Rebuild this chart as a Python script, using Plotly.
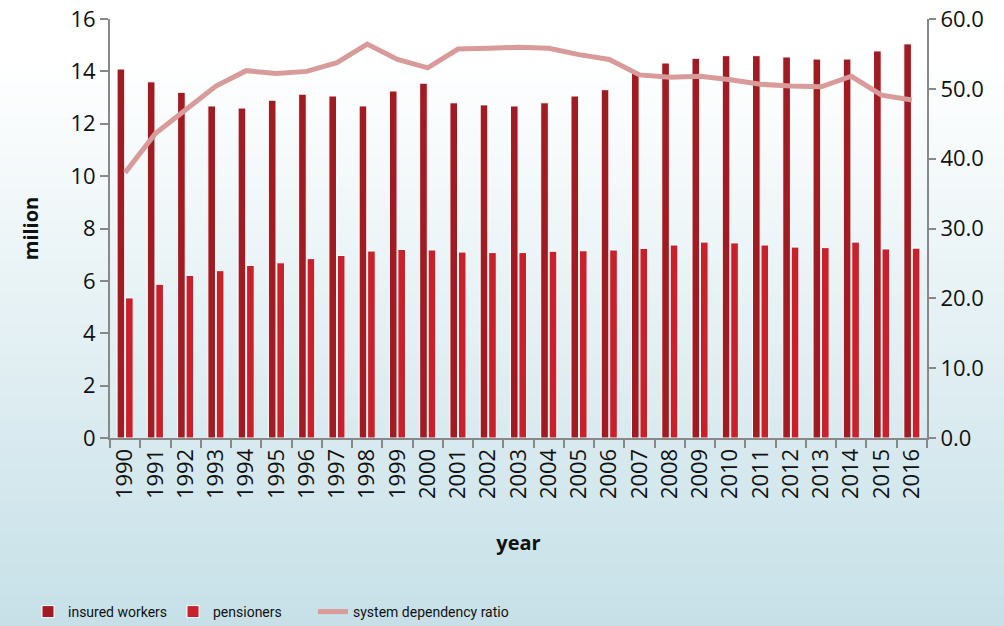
import plotly.graph_objects as go

years = [str(y) for y in range(1990, 2017)]
insured_workers = [14.09, 13.6, 13.2, 12.68, 12.6, 12.9, 13.13, 13.06, 12.68, 13.25,
                   13.55, 12.8, 12.72, 12.68, 12.8, 13.06, 13.3, 14.0, 14.32, 14.5,
                   14.6, 14.6, 14.55, 14.47, 14.47, 14.78, 15.05]
pensioners = [5.35, 5.87, 6.21, 6.39, 6.59, 6.69, 6.85, 6.97, 7.14, 7.2,
              7.18, 7.1, 7.08, 7.08, 7.13, 7.15, 7.18, 7.24, 7.37, 7.48,
              7.45, 7.37, 7.29, 7.27, 7.48, 7.22, 7.25]
dependency_ratio = [38.0, 43.6, 47.0, 50.4, 52.6, 52.2, 52.5, 53.75, 56.4, 54.2,
                    53.0, 55.7, 55.8, 55.95, 55.8, 54.9, 54.2, 52.0, 51.65, 51.8,
                    51.3, 50.65, 50.4, 50.3, 51.8, 49.1, 48.4]

W, H = 1004, 626
L, R, T, B = 110, 77, 19, 188
pw, ph = W - L - R, H - T - B

fig = go.Figure()
fig.add_trace(go.Bar(x=years, y=insured_workers, name="insured workers",
                     marker=dict(color="#a11c22", line=dict(color="white", width=1))))
fig.add_trace(go.Bar(x=years, y=pensioners, name="pensioners",
                     marker=dict(color="#c8212b", line=dict(color="white", width=1))))
fig.add_trace(go.Scatter(x=years, y=dependency_ratio, name="system dependency ratio",
                         yaxis="y2", mode="lines", legend="legend2",
                         line=dict(color="#d99a9a", width=5)))

# background gradient (white at top -> light blue at bottom)
shapes = []
n = 60
c0 = (255, 255, 255)
c1 = (198, 224, 232)
for i in range(n):
    py0 = H * i / n
    py1 = H * (i + 1) / n
    t = max(0.0, ((py0 + py1) / 2 - 60) / (H - 60))
    col = tuple(int(round(c0[k] + (c1[k] - c0[k]) * t)) for k in range(3))
    shapes.append(dict(type="rect", xref="paper", yref="paper", layer="below",
                       x0=-L / pw, x1=1 + R / pw,
                       y0=(H - B - py1) / ph - 0.002, y1=(H - B - py0) / ph,
                       fillcolor="rgb(%d,%d,%d)" % col, line=dict(width=0)))

axis_font = dict(family="Open Sans", size=22, color="#111")
legend_font = dict(family="Roboto", size=14, color="#111")
fig.update_layout(
    width=W, height=H,
    margin=dict(l=L, r=R, t=T, b=B, autoexpand=False),
    paper_bgcolor="white", plot_bgcolor="rgba(0,0,0,0)",
    shapes=shapes,
    barmode="group", bargap=0.44, bargroupgap=0.1,
    font=dict(family="Open Sans", color="#111"),
    xaxis=dict(type="category", showgrid=False, showline=True, linecolor="#888", linewidth=2,
               ticks="outside", tickson="boundaries", ticklen=8, tickwidth=2, tickcolor="#888",
               tickangle=-90, tickfont=axis_font,
               title=dict(text="<b>year</b>", font=dict(family="Open Sans", size=20, color="#111"), standoff=38)),
    yaxis=dict(range=[0, 16], dtick=2, showgrid=False, showline=True, linecolor="#888", linewidth=2,
               ticks="outside", ticklen=8, tickwidth=2, tickcolor="#888", tickfont=axis_font,
               zeroline=False,
               title=dict(text="<b>milion</b>", font=dict(family="Open Sans", size=20, color="#111"), standoff=26)),
    yaxis2=dict(range=[0, 60], dtick=10, tickformat=".1f", overlaying="y", side="right",
                showgrid=False, showline=True, linecolor="#888", linewidth=2,
                ticks="outside", ticklen=7, tickwidth=2, tickcolor="#888", tickfont=axis_font,
                zeroline=False),
    legend=dict(orientation="h", x=(28 - L) / pw, xanchor="left", y=(H - B - 612) / ph, yanchor="middle",
                font=legend_font, bgcolor="rgba(0,0,0,0)", itemwidth=30,
                entrywidth=100, entrywidthmode="pixels"),
    legend2=dict(orientation="h", x=(313 - L) / pw, xanchor="left", y=(H - B - 612) / ph, yanchor="middle",
                 font=legend_font, bgcolor="rgba(0,0,0,0)", itemwidth=30),
    showlegend=True,
)

fig.write_html("out.html")
